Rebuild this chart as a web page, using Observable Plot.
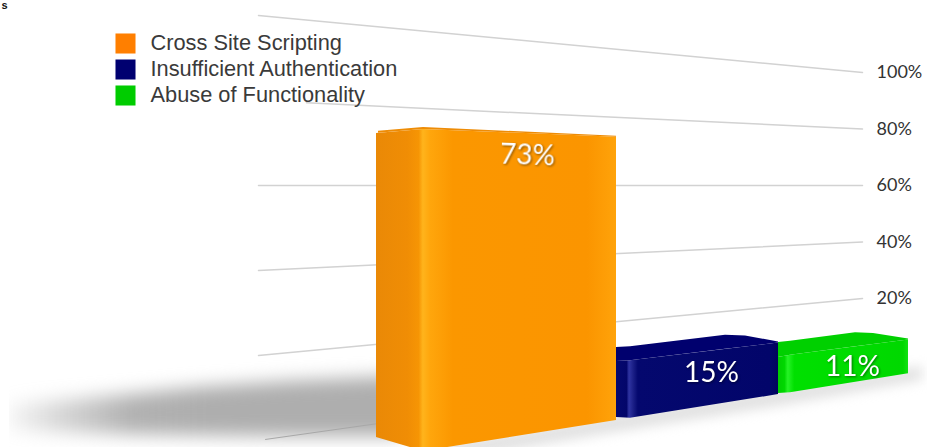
<!DOCTYPE html>
<html>
<head>
<meta charset="utf-8">
<style>
  html, body { margin: 0; background: #fff; }
  svg { display: block; overflow: hidden; }
</style>
<script src="https://cdn.jsdelivr.net/npm/d3@7"></script>
<script src="https://cdn.jsdelivr.net/npm/@observablehq/plot@0.6"></script>
</head>
<body>
<div id="chart"></div>
<script>
// Share of web attacks by class
const categories = ["Cross Site Scripting", "Insufficient Authentication", "Abuse of Functionality"];
const shares = [73, 15, 11];
const swatches = ["#ff7f00", "#000070", "#00cc00"];
const capColors = ["#ee8c06", "#00006e", "#00d000"];
const wallTicks = [20, 40, 60, 80, 100];
const axisTicks = [20, 40, 60, 80, 100];

// Perspective layout of the bars along the floor
const sideEdge = [376, 616, 778];
const foldEdge = [423, 630, 790];
const rightEdge = [616, 778, 908];
const sideTopRow = [133, 361, 357];
const sideFootRow = [437, 417, 393];
const capX = [
  [378, 423, 616],
  [616, 630, 725, 745, 778],
  [778, 790, 855, 873, 908]
];
const capLiftRows = [
  [2, 2, 1],
  [14, 14, 14, 11, 1],
  [15, 14, 14, 11, 1]
];
const labelX = [527, 711, 852];
const labelRow = [155, 373, 367];
const labelTilt = [2, 0, 0];

// Ground shadow cast to the left of the tall bar, and the softer one under the row
const shadowX = [9, 60, 130, 200, 290, 400];
const shadowTopRow = [404, 400, 394, 387, 381, 376];
const shadowFootRow = [430, 432, 434, 435, 436, 436];
const shadowFade = [[0, 0.12], [0.13, 0.5], [0.31, 0.95], [0.5, 1], [1, 1]];
const underX = [440, 616, 778, 922];
const underTopRow = [445, 414, 388, 366];
const underFootRow = [462, 432, 406, 380];

// y positions are stated against the right-hand axis, where 1 point spans 2.825 rows
const zeroRow = 354.5;
const rowSpan = 2.825;
const rows = (r) => (zeroRow - r) / rowSpan;

// Back wall: gridlines fan out towards the left
const wallLeft = 258;
const wallRight = 862;
const wall = (x, v) => {
  const t = (x - wallLeft) / (wallRight - wallLeft);
  return 60 + (v - 60) * (1.504 + (1 - 1.504) * t);
};
const wallStart = (v) => (v === 80 ? 306 : wallLeft);
const wallLines = wallTicks.flatMap((v) => [wallStart(v), wallRight].map((x) => ({tick: v, x, y: wall(x, v)})));
const wallBase = [wallLeft + 7, wallRight].map((x) => ({x, y: wall(x, 0)}));

// Front plane of the bars: floor line and height per point both shrink with distance
const floorRow = (x) => 420 - 0.16 * (x - 616);
const pointRows = (x) => 3.88 - 0.00275 * (x - 616);
const front = (x, v) => rows(floorRow(x) - pointRows(x) * v);

const bars = categories.map((name, i) => {
  const v = shares[i];
  const topAt = (x) =>
    x >= foldEdge[i]
      ? front(x, v)
      : rows(sideTopRow[i]) + (front(foldEdge[i], v) - rows(sideTopRow[i])) * (x - sideEdge[i]) / (foldEdge[i] - sideEdge[i]);
  return {
    name,
    value: v,
    body: [
      {x: sideEdge[i], top: rows(sideTopRow[i]), foot: rows(sideFootRow[i])},
      {x: foldEdge[i], top: front(foldEdge[i], v), foot: rows(floorRow(foldEdge[i]))},
      {x: rightEdge[i], top: front(rightEdge[i], v), foot: rows(floorRow(rightEdge[i]))}
    ],
    cap: capX[i].map((x, j) => ({x, low: topAt(x), high: topAt(x) + capLiftRows[i][j] / rowSpan}))
  };
});

const labels = shares.map((v, i) => ({text: `${v}%`, x: labelX[i], y: rows(labelRow[i]), tilt: labelTilt[i]}));
const shadow = shadowX.map((x, i) => ({x, top: rows(shadowTopRow[i]), foot: rows(shadowFootRow[i])}));
const under = underX.map((x, i) => ({x, top: rows(underTopRow[i]), foot: rows(underFootRow[i])}));

// Lighting across each bar: dim side face, bright fold, even front
const lighting = [
  [[0, "#ea8906"], [0.13, "#f08d05"], [0.178, "#f69504"], [0.195, "#ffb41c"], [0.225, "#ffa60c"], [0.32, "#fb9700"], [0.88, "#fb9500"], [1, "#ffa30a"]],
  [[0, "#05096e"], [0.065, "#03066a"], [0.08, "#2f34a2"], [0.105, "#1c2088"], [0.135, "#04086e"], [0.95, "#02056a"], [1, "#01045c"]],
  [[0, "#00cc00"], [0.05, "#00d800"], [0.075, "#26f226"], [0.125, "#00e000"], [0.96, "#00d800"], [1, "#12e212"]]
];

const faces = [2, 1, 0].flatMap((i) => [
  Plot.area(bars[i].body, {x1: "x", y1: "foot", y2: "top", fill: `url(#bar-light-${i})`}),
  Plot.area(bars[i].cap, {x1: "x", y1: "low", y2: "high", fill: capColors[i]})
]);

const legend = categories.flatMap((name, i) => [
  Plot.dot([name], {frameAnchor: "top-left", dx: 125, dy: 43 + 26 * i, symbol: "square", r: 11.3, fill: swatches[i], stroke: "none"}),
  Plot.text([name], {frameAnchor: "top-left", dx: 150, dy: 43 + 26 * i, text: (d) => d, textAnchor: "start", lineAnchor: "middle",
    fontFamily: "Liberation Sans", fontSize: 21.8, fill: "#3a3a3a"})
]);

const chart = Plot.plot({
  width: 927,
  height: 447,
  marginLeft: 0,
  marginRight: 65,
  marginTop: 0,
  marginBottom: 0,
  style: {fontFamily: "Lato", fontSize: "18px", background: "#fff"},
  x: {domain: [0, wallRight], range: [0, wallRight], axis: null},
  y: {domain: [0, 100], range: [zeroRow, zeroRow - 100 * rowSpan]},
  marks: [
    Plot.area(shadow, {x1: "x", y1: "foot", y2: "top", fill: "url(#shadow-fade)", imageFilter: "blur(9px)"}),
    Plot.area([{x: 0, a: rows(330), b: rows(447)}, {x: 9, a: rows(330), b: rows(447)}], {x1: "x", y1: "b", y2: "a", fill: "#fff"}),
    Plot.area(under, {x1: "x", y1: "foot", y2: "top", fill: "#cfcfcf", fillOpacity: 0.6, imageFilter: "blur(6px)"}),
    Plot.line(wallBase, {x: "x", y: "y", stroke: "#a8a8a8", strokeWidth: 1}),
    Plot.line(wallLines, {x: "x", y: "y", z: "tick", stroke: "#d2d2d2", strokeWidth: 1.5}),
    Plot.axisY({anchor: "right", ticks: axisTicks, tickSize: 0, tickPadding: 14, tickFormat: (d) => `${d}%`,
      label: null, fill: "#333", fontSize: 18, fontFamily: "Lato"}),
    ...faces,
    Plot.text(labels, {x: "x", y: "y", text: "text", rotate: "tilt", fill: "#fff", fontFamily: "Lato", fontSize: 28,
      imageFilter: "drop-shadow(1px 1px 1px rgba(0,0,0,0.45))"}),
    ...legend,
    Plot.text(["s"], {frameAnchor: "top-left", dx: 1, dy: 1, text: (d) => d, textAnchor: "start", lineAnchor: "top",
      fontFamily: "Liberation Sans", fontWeight: "bold", fontSize: 11, fill: "#111"})
  ]
});

// Horizontal gradients for the bar faces and the shadow's fade-out
const defs = d3.select(chart).insert("defs", ":first-child");
lighting.forEach((stops, i) => {
  const gradient = defs.append("linearGradient").attr("id", `bar-light-${i}`).attr("x1", 0).attr("x2", 1).attr("y1", 0).attr("y2", 0);
  stops.forEach(([offset, color]) => gradient.append("stop").attr("offset", offset).attr("stop-color", color));
});
const fade = defs.append("linearGradient").attr("id", "shadow-fade").attr("x1", 0).attr("x2", 1).attr("y1", 0).attr("y2", 0);
shadowFade.forEach(([offset, alpha]) =>
  fade.append("stop").attr("offset", offset).attr("stop-color", "#aeaeae").attr("stop-opacity", alpha));

document.getElementById("chart").append(chart);
</script>
</body>
</html>
